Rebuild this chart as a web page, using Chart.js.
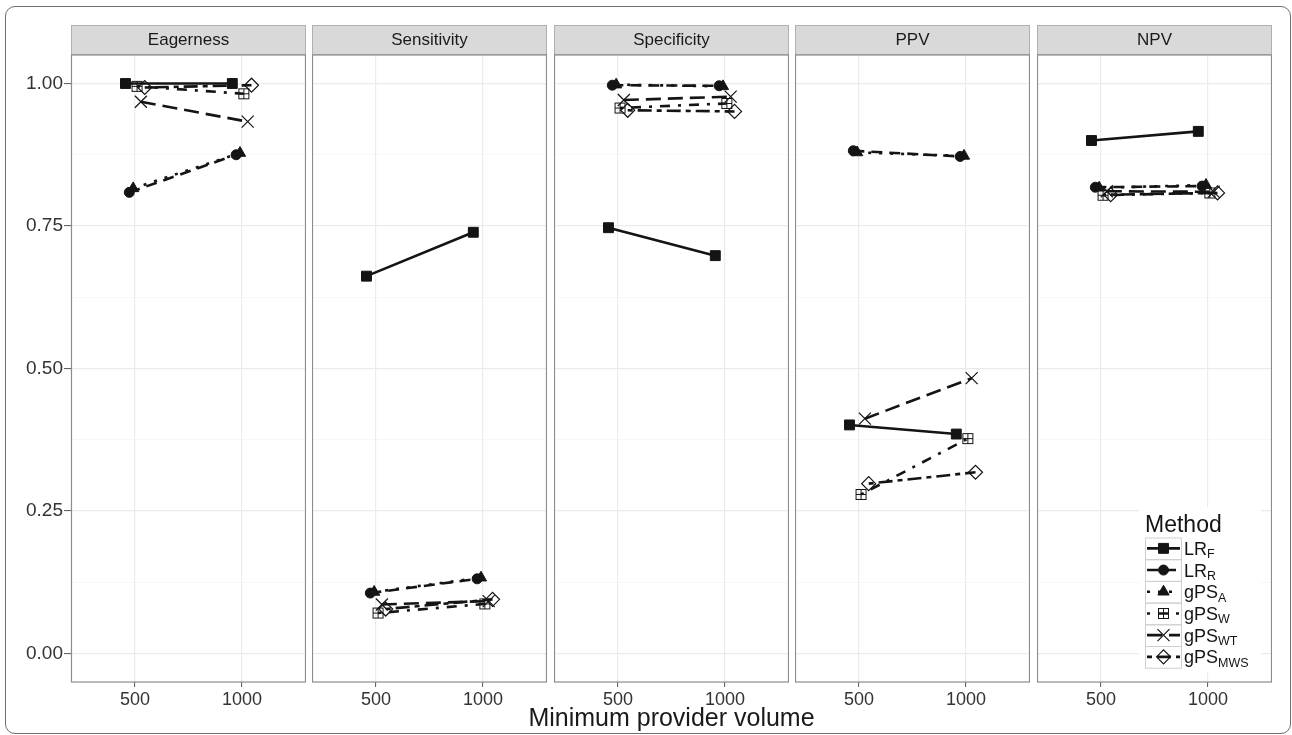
<!DOCTYPE html>
<html>
<head>
<meta charset="utf-8">
<script src="https://cdn.jsdelivr.net/npm/chart.js@4.4.0/dist/chart.umd.min.js"></script>
<style>
  html, body { margin: 0; padding: 0; background: #fff; }
  body { width: 1292px; height: 735px; position: relative; overflow: hidden; font-family: "Liberation Sans", Arial, sans-serif; }
  #frame { position: absolute; left: 5px; top: 6px; width: 1286px; height: 728px; border: 1.5px solid #6e6e6e; border-radius: 10px; box-sizing: border-box; }
  .panel { position: absolute; top: 25px; }
  #xtitle { position: absolute; left: 71px; width: 1201px; top: 703px; text-align: center; font-size: 25px; color: #1a1a1a; }
</style>
</head>
<body>
<div id="frame"></div>
<div id="panels"></div>
<div id="xtitle">Minimum provider volume</div>
<script>
// facets and axis labels
const panelNames = ['Eagerness', 'Sensitivity', 'Specificity', 'PPV', 'NPV'];
const volumes = ['500', '1000'];
const yTicks = [0, 0.25, 0.5, 0.75, 1];

// method names (base + subscript)
const methodBase = ['LR', 'LR', 'gPS', 'gPS', 'gPS', 'gPS'];
const methodSub = ['F', 'R', 'A', 'W', 'WT', 'MWS'];

// values per facet, [500, 1000]
const lrF    = [[1.000, 1.000], [0.662, 0.739], [0.747, 0.698], [0.401, 0.385], [0.900, 0.916]];
const lrR    = [[0.809, 0.875], [0.106, 0.131], [0.997, 0.996], [0.882, 0.872], [0.818, 0.820]];
const gpsA   = [[0.816, 0.878], [0.108, 0.133], [0.998, 0.995], [0.879, 0.873], [0.817, 0.822]];
const gpsW   = [[0.995, 0.982], [0.071, 0.087], [0.957, 0.965], [0.279, 0.377], [0.804, 0.808]];
const gpsWT  = [[0.968, 0.933], [0.086, 0.092], [0.971, 0.977], [0.412, 0.483], [0.811, 0.810]];
const gpsMWS = [[0.993, 0.997], [0.078, 0.095], [0.953, 0.951], [0.298, 0.318], [0.805, 0.808]];

const series = [lrF, lrR, gpsA, gpsW, gpsWT, gpsMWS];

const ink = '#141414';
const dodge = 0.036;

// square with a cross (ggplot shape 12)
const boxPlus = document.createElement('canvas');
boxPlus.width = 13; boxPlus.height = 13;
{
  const c = boxPlus.getContext('2d');
  c.strokeStyle = ink; c.lineWidth = 1;
  c.strokeRect(1.5, 1.5, 10, 10);
  c.beginPath();
  c.moveTo(6.5, 1.5); c.lineTo(6.5, 11.5);
  c.moveTo(1.5, 6.5); c.lineTo(11.5, 6.5);
  c.stroke();
}

const styles = [
  { dash: [],             point: 'rect',     radius: 7,   fill: true,  pbw: 1 },
  { dash: [11, 7],        point: 'circle',   radius: 5,   fill: true,  pbw: 1 },
  { dash: [3, 8],         point: 'triangle', radius: 6.5, fill: true,  pbw: 1 },
  { dash: [3, 8, 10, 8],  point: boxPlus,    radius: 6,   fill: false, pbw: 1 },
  { dash: [15, 7],        point: 'crossRot', radius: 8.5, fill: false, pbw: 1.2 },
  { dash: [5, 5, 14, 5],  point: 'rectRot',  radius: 7,   fill: false, pbw: 1.2 }
];

const panelLeft = [71, 312, 554, 795, 1037];
const panelWidth = 235;
const canvasHeight = 710;

const stripPlugin = {
  id: 'strip',
  beforeDraw(chart) {
    const { ctx, chartArea: ca } = chart;
    ctx.save();
    ctx.fillStyle = '#d9d9d9';
    ctx.fillRect(ca.left, 0, ca.right - ca.left, ca.top);
    ctx.strokeStyle = '#b0b0b0';
    ctx.lineWidth = 1;
    ctx.strokeRect(ca.left + 0.5, 0.5, ca.right - ca.left - 1, ca.top - 1);
    ctx.restore();
  },
  afterDraw(chart) {
    const { ctx, chartArea: ca } = chart;
    ctx.save();
    ctx.strokeStyle = '#8c8c8c';
    ctx.lineWidth = 1.2;
    ctx.strokeRect(ca.left + 0.5, ca.top, ca.right - ca.left - 1, ca.bottom - ca.top);
    ctx.restore();
  }
};

const legendPlugin = {
  id: 'methodLegend',
  afterDraw(chart) {
    const { ctx, chartArea: ca } = chart;
    const boxL = ca.right - 133, boxT = ca.bottom - 175;
    ctx.save();
    ctx.fillStyle = '#fff';
    ctx.fillRect(boxL, boxT, 122, 165);
    ctx.fillStyle = ink;
    ctx.font = '23px "Liberation Sans", Arial, sans-serif';
    ctx.textBaseline = 'alphabetic';
    ctx.fillText('Method', ca.right - 127, ca.bottom - 150);
    const keyL = ca.right - 127, keyW = 36, rowH = 21.7;
    let top = ca.bottom - 144.5;
    chart.data.datasets.forEach((ds, m) => {
      const cy = top + rowH / 2;
      ctx.strokeStyle = '#cfcfcf';
      ctx.lineWidth = 1;
      ctx.strokeRect(keyL + 0.5, top + 0.5, keyW, rowH);
      ctx.strokeStyle = ink;
      ctx.lineWidth = ds.borderWidth;
      ctx.setLineDash(ds.borderDash);
      ctx.beginPath();
      ctx.moveTo(keyL + 2, cy);
      ctx.lineTo(keyL + keyW - 1, cy);
      ctx.stroke();
      ctx.setLineDash([]);
      ctx.fillStyle = ds.pointBackgroundColor;
      ctx.strokeStyle = ink;
      ctx.lineWidth = ds.pointBorderWidth;
      Chart.helpers.drawPoint(ctx, {
        pointStyle: ds.pointStyle, radius: ds.pointRadius, rotation: 0, borderWidth: ds.pointBorderWidth
      }, keyL + keyW / 2 + 0.5, cy);
      ctx.fillStyle = ink;
      ctx.font = '18px "Liberation Sans", Arial, sans-serif';
      const tx = ca.right - 88;
      ctx.fillText(methodBase[m], tx, cy + 6.5);
      const w = ctx.measureText(methodBase[m]).width;
      ctx.font = '12.5px "Liberation Sans", Arial, sans-serif';
      ctx.fillText(methodSub[m], tx + w, cy + 10);
      top += rowH;
    });
    ctx.restore();
  }
};

const gridValues = [];
yTicks.forEach((v, i) => {
  gridValues.push(v);
  if (i < yTicks.length - 1) gridValues.push((v + yTicks[i + 1]) / 2);
});

function datasetsFor(p) {
  return series.map((s, m) => ({
    label: methodBase[m] + methodSub[m],
    data: s[p].map((v, k) => ({ x: k + 1 + (m - 2.5) * dodge, y: v })),
    borderColor: ink,
    borderWidth: 2.6,
    borderDash: styles[m].dash,
    pointStyle: styles[m].point,
    pointRadius: styles[m].radius,
    pointBackgroundColor: styles[m].fill ? ink : 'rgba(0,0,0,0)',
    pointBorderColor: ink,
    pointBorderWidth: styles[m].pbw,
    tension: 0,
    order: series.length - m
  }));
}

const isMajor = v => yTicks.some(t => Math.abs(t - v) < 1e-9);

panelNames.forEach((name, p) => {
  const first = p === 0;
  const wrap = document.createElement('div');
  wrap.className = 'panel';
  const left = first ? 0 : panelLeft[p];
  const width = first ? panelLeft[0] + panelWidth : panelWidth;
  wrap.style.left = left + 'px';
  const canvas = document.createElement('canvas');
  canvas.width = width;
  canvas.height = canvasHeight;
  wrap.appendChild(canvas);
  document.getElementById('panels').appendChild(wrap);

  new Chart(canvas, {
    type: 'line',
    data: { datasets: datasetsFor(p) },
    plugins: p === panelNames.length - 1 ? [stripPlugin, legendPlugin] : [stripPlugin],
    options: {
      responsive: false,
      animation: false,
      events: [],
      layout: { padding: 0, autoPadding: false },
      plugins: {
        legend: { display: false },
        tooltip: { enabled: false },
        title: {
          display: true,
          text: name,
          fullSize: false,
          color: '#1a1a1a',
          font: { family: '"Liberation Sans", Arial, sans-serif', size: 17, weight: 'normal', lineHeight: 1.2 },
          padding: { top: 5, bottom: 4.6 }
        }
      },
      scales: {
        x: {
          type: 'linear',
          min: 0.4,
          max: 2.6,
          afterBuildTicks: s => { s.ticks = volumes.map((v, i) => ({ value: i + 1 })); },
          afterFit: s => { s.height = 53; },
          border: { display: false },
          grid: { color: '#ebebeb', lineWidth: 1.2, tickColor: '#555', tickLength: 5, tickWidth: 1 },
          ticks: {
            autoSkip: false, maxRotation: 0, padding: 2, color: '#333',
            font: { family: '"Liberation Sans", Arial, sans-serif', size: 18 },
            callback: v => volumes[Math.round(v) - 1]
          }
        },
        y: {
          type: 'linear',
          min: -0.05,
          max: 1.05,
          afterBuildTicks: s => { s.ticks = gridValues.map(v => ({ value: v })); },
          afterFit: s => { s.width = first ? panelLeft[0] : 0; },
          border: { display: false },
          grid: {
            color: c => (c.tick && isMajor(c.tick.value)) ? '#ebebeb' : '#f3f3f3',
            lineWidth: c => (c.tick && isMajor(c.tick.value)) ? 1.2 : 0.7,
            tickColor: c => (c.tick && isMajor(c.tick.value)) ? '#555' : 'rgba(0,0,0,0)',
            drawTicks: first,
            tickLength: 7,
            tickWidth: 1
          },
          ticks: {
            display: first, padding: 1, color: '#333',
            font: { family: '"Liberation Sans", Arial, sans-serif', size: 19 },
            callback: v => isMajor(v) ? v.toFixed(2) : ''
          }
        }
      }
    }
  });
});
</script>
</body>
</html>
